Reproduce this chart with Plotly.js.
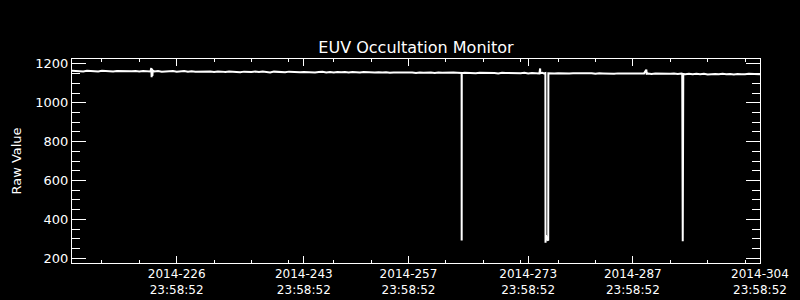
<!DOCTYPE html>
<html>
<head>
<meta charset="utf-8">
<script src="https://cdn.plot.ly/plotly-3.0.1.min.js"></script>
<style>html,body{margin:0;padding:0;background:#000;}#chart{width:800px;height:300px;}</style>
</head>
<body>
<div id="chart"></div>
<script>
// Time as fractional day-of-year 2014 (day N 00:00 = N)
const dayOfYear = [
  213,213.5,214,214.5,215,215.5,216,216.5,217,217.5,218,218.5,219,219.5,220,220.5,221,221.5,222,222.5,
  223,223.5,223.6,223.65,223.7,223.75,223.8,
  224,224.5,225,225.5,226,226.5,227,227.5,228,228.5,229,229.5,230,230.5,231,231.5,232,232.5,
  233,233.5,234,234.5,235,235.5,236,236.5,237,237.5,238,238.5,239,239.5,240,240.5,241,241.5,242,242.5,
  243,243.5,244,244.5,245,245.5,246,246.5,247,247.5,248,248.5,249,249.5,250,250.5,251,251.5,252,252.5,
  253,253.5,254,254.5,255,255.5,256,256.5,257,257.5,258,258.5,259,259.5,260,260.5,261,261.5,262,262.5,
  263,263.5,264,264.5,265,265.1,265.11,265.12,265.5,
  266,266.5,267,267.5,268,268.5,269,269.5,270,270.5,271,271.5,272,272.5,
  273,273.5,274,274.5,275,275.5,275.6,275.62,275.9,276.1,276.3,276.32,276.38,276.45,276.6,276.68,276.7,277,277.5,
  278,278.5,279,279.5,280,280.5,281,281.5,282,282.5,283,283.5,284,284.5,285,285.5,286,286.5,287,287.5,288,288.5,
  289,289.5,289.8,289.85,290,290.5,
  291,291.5,292,292.5,293,293.5,294,294.5,
  294.6,294.67,294.74,295,295.5,
  296,296.5,297,297.5,298,298.5,299,299.5,300,300.5,301,301.5,302,302.5,303,303.5,304,304.5,305
];
const rawValue = [
  1164,1162,1163,1161,1164,1162,1163,1161,1164,1162,1163,1161,1163,1162,1164,1161,1162,1163,1161,1163,
  1162,1161,1179,1131,1174,1138,1166,
  1161,1163,1160,1162,1161,1163,1160,1162,1163,1159,1162,1160,1161,1159,1162,1161,1158,1161,
  1160,1158,1161,1159,1160,1157,1160,1159,1158,1161,1158,1160,1159,1156,1160,1158,1159,1157,1160,1158,
  1159,1157,1158,1157,1159,1156,1158,1159,1156,1158,1155,1158,1157,1158,1155,1158,1157,1155,1158,1156,
  1157,1155,1157,1155,1157,1154,1156,1156,1154,1157,1155,1156,1153,1156,1154,1156,1155,1153,1156,1154,
  1155,1153,1155,1154,1155,1153,291,1152,1154,
  1153,1155,1152,1154,1154,1152,1155,1153,1151,1154,1153,1152,1154,1153,
  1152,1154,1151,1153,1153,1151,1176,1152,1154,1151,1153,279,318,300,296,291,1152,1153,1151,
  1152,1151,1153,1150,1152,1152,1150,1153,1151,1152,1149,1152,1151,1150,1152,1149,1151,1151,1150,1152,1149,1151,
  1150,1151,1170,1149,1150,1148,
  1150,1149,1150,1147,1149,1150,1148,1150,
  1149,287,1148,1147,1149,
  1147,1149,1147,1149,1145,1148,1148,1146,1149,1147,1148,1145,1148,1147,1146,1149,1147,1148,1146
];
const xTickDays = [226.999, 243.999, 257.999, 273.999, 287.999, 304.999];
const xTickText = ['2014-226<br>23:58:52','2014-243<br>23:58:52','2014-257<br>23:58:52','2014-273<br>23:58:52','2014-287<br>23:58:52','2014-304<br>23:58:52'];
const xMinorDays = [217,222,227,232,237,242,248,253,258,263,268,273,278,283,288,293,298,303];

const fontFam = 'DejaVu Sans, sans-serif';
const trace = {
  type: 'scatter', mode: 'lines',
  x: dayOfYear, y: rawValue,
  line: {color: '#ffffff', width: 2},
  hoverinfo: 'skip'
};
const layout = {
  width: 800, height: 300,
  margin: {l: 72, r: 40, t: 59, b: 37, pad: 0},
  paper_bgcolor: '#000000', plot_bgcolor: '#000000',
  font: {family: fontFam, size: 13, color: '#ffffff'},
  showlegend: false,
  title: {text: 'EUV Occultation Monitor', font: {family: fontFam, size: 16, color: '#ffffff'},
          x: 0.5, xref: 'paper', xanchor: 'center', y: 0.843, yref: 'container', yanchor: 'middle'},
  xaxis: {
    range: [213, 305], showgrid: false, zeroline: false,
    showline: true, linecolor: '#ffffff', linewidth: 1, mirror: 'ticks',
    ticks: 'inside', ticklen: 7, tickwidth: 1, tickcolor: '#ffffff',
    tickmode: 'array', tickvals: xTickDays, ticktext: xTickText,
    tickfont: {family: fontFam, size: 12, color: '#ffffff'},
    minor: {tickmode: 'array', tickvals: xMinorDays, ticks: 'inside', ticklen: 3, tickwidth: 1, tickcolor: '#ffffff', showgrid: false}
  },
  yaxis: {
    range: [175, 1225], showgrid: false, zeroline: false,
    showline: true, linecolor: '#ffffff', linewidth: 1, mirror: 'ticks',
    ticks: 'inside', ticklen: 14, tickwidth: 1, tickcolor: '#ffffff',
    tickmode: 'linear', tick0: 0, dtick: 200,
    tickfont: {family: fontFam, size: 13, color: '#ffffff'},
    minor: {tickmode: 'linear', tick0: 0, dtick: 50, ticks: 'inside', ticklen: 8, tickwidth: 1, tickcolor: '#ffffff', showgrid: false},
    title: {text: 'Raw Value', font: {family: fontFam, size: 13, color: '#ffffff'}, standoff: 10}
  }
};
Plotly.newPlot('chart', [trace], layout, {displayModeBar: false, staticPlot: true});
</script>
</body>
</html>
